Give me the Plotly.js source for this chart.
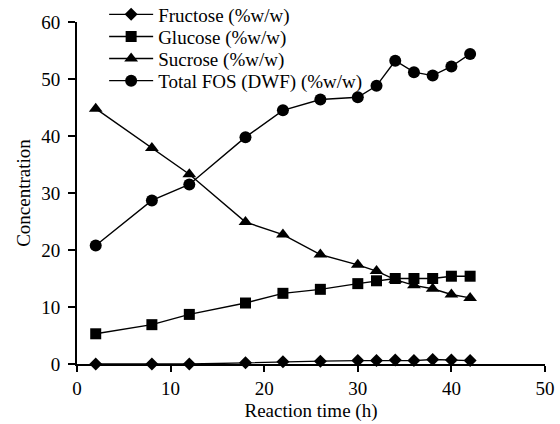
<!DOCTYPE html>
<html>
<head>
<meta charset="utf-8">
<script src="https://cdn.plot.ly/plotly-3.0.1.min.js"></script>
<style>html,body{margin:0;padding:0;background:#fff;}#chart{width:560px;height:424px;}</style>
</head>
<body>
<div id="chart"></div>
<script>
const time = [2, 8, 12, 18, 22, 26, 30, 32, 34, 36, 38, 40, 42];
const fructose = [0, 0, 0, 0.2, 0.4, 0.5, 0.6, 0.6, 0.7, 0.6, 0.8, 0.7, 0.6];
const glucose = [5.3, 6.9, 8.7, 10.7, 12.4, 13.1, 14.1, 14.6, 15.0, 15.0, 15.0, 15.4, 15.4];
const sucrose = [44.8, 37.9, 33.3, 24.9, 22.7, 19.2, 17.4, 16.3, 14.8, 13.8, 13.2, 12.2, 11.6];
const fos = [20.8, 28.7, 31.5, 39.8, 44.5, 46.4, 46.8, 48.8, 53.2, 51.2, 50.6, 52.2, 54.4];
const seriesNames = ['Fructose (%w/w)', 'Glucose (%w/w)', 'Sucrose (%w/w)', 'Total FOS (DWF) (%w/w)'];

const font = 'Times New Roman, Liberation Serif, serif';
const legendIds = ['legend', 'legend2', 'legend3', 'legend4'];
function tr(y, i, symbol, size) {
  return {x: time, y: y, name: seriesNames[i], type: 'scatter', mode: 'lines+markers',
    legend: legendIds[i], cliponaxis: false,
    line: {color: '#000', width: 1.4},
    marker: {symbol: symbol, size: size, color: '#000'}};
}
const data = [
  tr(fructose, 0, 'diamond', 10),
  tr(glucose, 1, 'square', 11),
  tr(sucrose, 2, 'triangle-up', 12),
  tr(fos, 3, 'circle', 12)
];
const rowY = [1.022, 0.957, 0.893, 0.828];
const layout = {
  width: 560, height: 424,
  margin: {l: 77, r: 15, t: 22, b: 60, autoexpand: false},
  paper_bgcolor: '#fff', plot_bgcolor: '#fff',
  font: {family: font, size: 19, color: '#000'},
  showlegend: true,
  xaxis: {range: [0, 50], tickvals: [0, 10, 20, 30, 40, 50], showgrid: false, zeroline: false,
    showline: true, linecolor: '#000', linewidth: 2, ticks: 'outside', ticklen: 6, tickwidth: 2, tickcolor: '#000',
    tickfont: {family: font, size: 19, color: '#000'}, title: {text: 'Reaction time (h)', font: {family: font, size: 19, color: '#000'}, standoff: 6}},
  yaxis: {range: [0, 60], tickvals: [0, 10, 20, 30, 40, 50, 60], showgrid: false, zeroline: false,
    showline: true, linecolor: '#000', linewidth: 2, ticks: 'outside', ticklen: 7, tickwidth: 2, tickcolor: '#000',
    ticklabelstandoff: 4,
    tickfont: {family: font, size: 19, color: '#000'}, title: {text: 'Concentration', font: {family: font, size: 19, color: '#000'}, standoff: 6}}
};
legendIds.forEach(function (id, i) {
  layout[id] = {x: 0.058, y: rowY[i], xanchor: 'left', yanchor: 'middle', bgcolor: 'rgba(0,0,0,0)',
    font: {family: font, size: 19, color: '#000'}, itemwidth: 44, borderwidth: 0};
});
Plotly.newPlot('chart', data, layout, {displayModeBar: false, staticPlot: true});
</script>
</body>
</html>
